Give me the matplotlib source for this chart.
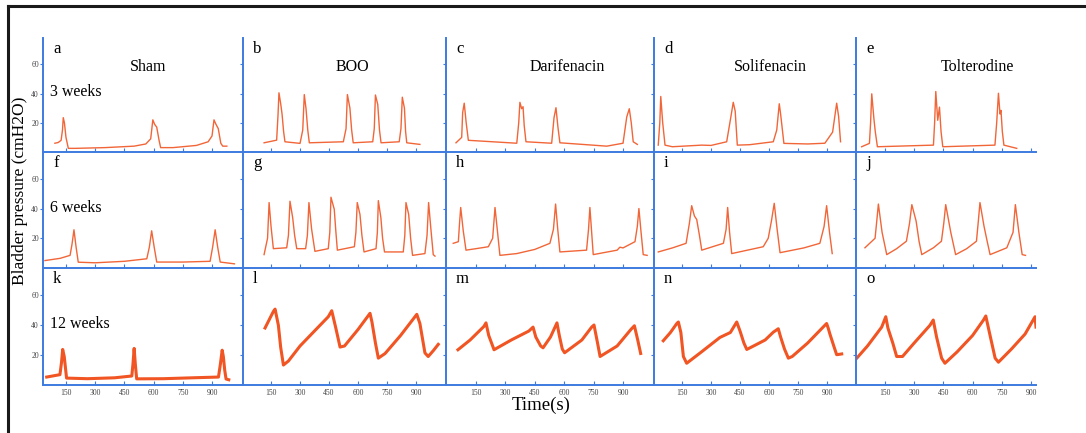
import matplotlib
matplotlib.use("Agg")
from matplotlib import pyplot as plt
from matplotlib.lines import Line2D

plt.rcParams['font.family'] = ['Liberation Serif', 'DejaVu Serif']

# ---- traces, time [s] and pressure [cmH2O] ----
# row 1 : 3 weeks
sham_3w_t = [93, 110, 125, 132, 136, 142, 150, 162, 200, 350, 500, 560, 585, 596, 605, 616, 628, 636, 700, 820, 880, 900, 910, 920, 932, 945, 955, 976]
sham_3w_p = [6, 6.5, 8, 15, 23.5, 20, 10, 2.5, 2.5, 3, 4, 5.5, 9, 22, 19, 17, 8, 3, 3, 4.5, 7, 11, 22, 19, 16, 6, 4, 4]
boo_3w_t = [114, 179, 186, 191, 200, 207, 215, 222, 300, 314, 322, 331, 340, 348, 524, 538, 545, 558, 567, 575, 676, 684, 690, 702, 711, 719, 813, 822, 829, 840, 846, 852, 920]
boo_3w_p = [6.3, 8.1, 25, 40.5, 33, 26, 14, 7, 5.9, 15, 39.3, 29.6, 15, 6.3, 7, 16, 39.3, 30, 15, 6.3, 7, 16, 39, 32.5, 15, 6.3, 7, 16, 37.5, 30, 14, 6.3, 5.2]
dari_3w_t = [48, 77, 82, 90, 100, 111, 358, 368, 374, 383, 390, 396, 405, 536, 548, 558, 568, 578, 817, 900, 919, 932, 942, 952, 973]
dari_3w_p = [6.3, 10, 27, 33.4, 20, 8, 6, 20, 34, 29.6, 31, 18, 7, 6, 23.5, 30.3, 17, 6.3, 4, 6, 24, 29.6, 20, 7, 5.2]
soli_3w_t = [27, 35, 40, 50, 62, 100, 252, 300, 381, 402, 415, 425, 436, 500, 622, 640, 653, 660, 677, 800, 889, 929, 950, 960, 970]
soli_3w_p = [4.7, 20, 38, 20, 4.7, 3.6, 4.7, 4.5, 7, 23.5, 34, 28, 4.7, 5, 7, 15, 33, 26, 5.9, 5.5, 6, 13.6, 33.4, 24.4, 7]
tolt_3w_t = [30, 70, 76, 82, 93, 100, 111, 399, 405, 411, 421, 430, 438, 447, 715, 724, 733, 741, 746, 753, 761, 827]
tolt_3w_p = [3.6, 5.9, 20, 39.8, 22.8, 14, 3.6, 4.7, 20, 41.4, 21.7, 30.7, 14, 3.6, 4.7, 20, 40.2, 26, 28.5, 14, 4.7, 2.5]

# row 2 : 6 weeks
sham_6w_t = [42, 120, 171, 181, 191, 202, 213, 300, 450, 565, 578, 590, 603, 616, 750, 890, 903, 916, 929, 942, 1015]
sham_6w_p = [5, 6.5, 8.5, 16, 25.7, 14, 3.9, 3.5, 4.5, 6.2, 14, 25, 14, 4, 4, 4.5, 14, 25.7, 14, 4, 2.8]
boo_6w_t = [114, 132, 140, 150, 162, 231, 240, 248, 262, 272, 283, 329, 338, 346, 360, 377, 446, 454, 460, 477, 485, 493, 581, 589, 596, 610, 620, 631, 693, 700, 705, 718, 727, 737, 834, 842, 848, 862, 872, 882, 946, 957, 965, 977, 989, 998]
boo_6w_p = [9, 20, 44, 28, 13, 13.6, 22, 44.9, 33.8, 22, 13, 13, 22, 44, 26, 11.2, 13, 24, 47.6, 39.5, 25, 12, 14.3, 24, 44, 36, 22, 10.8, 13, 24, 45.3, 34, 20, 10.8, 10.8, 22, 44, 36, 20, 8.5, 9.7, 22, 44, 26, 9, 8]
dari_6w_t = [34, 60, 66, 72, 85, 99, 150, 213, 235, 247, 260, 272, 358, 450, 527, 545, 556, 567, 578, 714, 724, 731, 740, 748, 870, 884, 900, 961, 973, 981, 992, 1003, 1023]
dari_6w_p = [16.6, 17.7, 30, 40.7, 25, 12, 13, 14.3, 20, 40.7, 24, 8.5, 9.7, 12.5, 16.6, 26, 43, 26, 10.8, 12, 26, 40.7, 24, 9, 12, 14, 13.5, 17.7, 28, 40, 24, 9, 8.5]
soli_6w_t = [27, 100, 171, 188, 200, 214, 226, 240, 252, 364, 378, 386, 396, 407, 570, 596, 613, 627, 642, 657, 780, 863, 885, 898, 913, 927]
soli_6w_p = [10.8, 13.5, 16.6, 30, 41.9, 35, 32.6, 22, 12, 16.6, 26, 40.7, 24, 9.7, 14.3, 20, 32, 43.5, 26, 10.3, 13.5, 16.6, 28, 41.9, 24, 9.7]
tolt_6w_t = [47, 99, 108, 116, 135, 159, 210, 260, 276, 288, 310, 325, 339, 399, 440, 452, 462, 488, 513, 570, 620, 630, 638, 659, 675, 690, 776, 808, 820, 838, 855, 872]
tolt_6w_p = [13.6, 20, 32, 43, 24, 9, 13, 18, 30, 42.6, 31.5, 18, 9, 13.6, 18, 30, 42.6, 24, 9, 13, 18, 32, 44, 28, 18, 9, 13.6, 24, 42.6, 24, 9, 8.5]

# row 3 : 12 weeks
sham_12w_t = [51, 119, 127, 133, 141, 153, 260, 400, 488, 494, 500, 506, 513, 650, 800, 933, 943, 952, 958, 965, 972, 986]
sham_12w_p = [5.3, 6.9, 15, 23.7, 19, 4.6, 4.2, 4.8, 6, 14, 24.4, 14, 4.1, 4.2, 4.8, 5.3, 14, 23.2, 19, 10, 4, 3.5]
boo_12w_t = [119, 162, 171, 188, 200, 214, 240, 300, 386, 446, 464, 485, 507, 530, 600, 662, 672, 690, 705, 740, 820, 904, 920, 946, 963, 990, 1015]
boo_12w_p = [38, 49, 50.6, 39.8, 25, 13.3, 16, 26, 37.5, 45.5, 49.5, 38, 25.3, 26, 37, 47.8, 42, 28, 17.9, 21, 33, 47.1, 41, 21.4, 19, 23, 27.1]
dari_12w_t = [58, 120, 190, 201, 215, 235, 242, 330, 420, 441, 455, 480, 492, 530, 563, 575, 590, 602, 690, 740, 752, 770, 783, 870, 940, 958, 975, 990]
dari_12w_p = [23.5, 30, 39, 41.4, 33, 26, 23.5, 30, 36, 38.6, 32, 26, 24.8, 32, 41.4, 33, 24, 21.5, 30, 38.6, 40, 28, 19, 26, 37, 39.5, 30, 21]
soli_12w_t = [53, 90, 123, 131, 144, 157, 174, 250, 346, 400, 433, 450, 470, 485, 520, 580, 622, 648, 660, 680, 700, 720, 800, 898, 906, 915, 935, 950, 976]
soli_12w_p = [29.5, 35, 41, 42, 35, 19, 14.5, 22, 31.7, 35, 42, 36, 28, 23.7, 26, 30, 35.2, 37.5, 32, 24, 17.9, 19, 28, 41, 38, 34, 26, 20.2, 20.7]
tolt_12w_t = [5, 60, 133, 154, 165, 190, 210, 240, 300, 381, 398, 415, 441, 458, 520, 600, 656, 668, 690, 716, 733, 800, 870, 921, 926]
tolt_12w_p = [17.9, 26, 38.6, 45.5, 38, 28, 19, 19, 28, 39.8, 43.3, 32, 17.9, 14.5, 22, 33, 43.3, 46, 33, 17.9, 15.2, 24, 34, 45.5, 38.6]

traces = [
    [(sham_3w_t, sham_3w_p), (boo_3w_t, boo_3w_p), (dari_3w_t, dari_3w_p), (soli_3w_t, soli_3w_p), (tolt_3w_t, tolt_3w_p)],
    [(sham_6w_t, sham_6w_p), (boo_6w_t, boo_6w_p), (dari_6w_t, dari_6w_p), (soli_6w_t, soli_6w_p), (tolt_6w_t, tolt_6w_p)],
    [(sham_12w_t, sham_12w_p), (boo_12w_t, boo_12w_p), (dari_12w_t, dari_12w_p), (soli_12w_t, soli_12w_p), (tolt_12w_t, tolt_12w_p)],
]

groups = ["Sham", "BOO", "Darifenacin", "Solifenacin", "Tolterodine"]
weeks = ["3 weeks", "6 weeks", "12 weeks"]
letters = "abcdefghijklmno"
xticks = [150, 300, 450, 600, 750, 900]
yticks = [20, 40, 60]

# ---- layout (pixels) ----
W, H = 1086, 433
col_left = [43, 243, 446, 654, 856]
col_right = [243, 446, 654, 856, 1036]
col_xlim = [(32, 1059), (5, 1055), (-3, 1058), (5, 1050), (1, 926)]
row_top = [38, 152, 268]
row_bot = [152, 268, 385]
title_x = [148, 352, 567, 770, 977]

blue = "#3d7be0"
red = "#f05523"

fig = plt.figure(figsize=(W/100, H/100), dpi=100)

for r in range(3):
    for c in range(5):
        x0 = col_left[c] / W
        y0 = 1 - row_bot[r] / H
        ax = fig.add_axes([x0, y0, (col_right[c] - col_left[c]) / W, (row_bot[r] - row_top[r]) / H])
        ax.patch.set_alpha(0)
        t, p = traces[r][c]
        if r == 2:
            ax.plot(t, p, color=red, lw=2.2, solid_joinstyle="round")
        else:
            ax.plot(t, p, color=red, lw=1.0, alpha=0.9)
        ax.set_xlim(*col_xlim[c])
        ax.set_ylim(0, 78)
        for s in ["top", "right"]:
            ax.spines[s].set_visible(False)
        for s in ["left", "bottom"]:
            ax.spines[s].set_color(blue)
            ax.spines[s].set_linewidth(1.4)
        ax.set_xticks(xticks)
        ax.set_yticks(yticks)
        ax.tick_params(axis="x", direction="in", length=3, color=blue, labelsize=5.5, pad=3, labelcolor="#444444")
        ax.tick_params(axis="y", direction="out", length=2, color=blue, labelsize=5.5, pad=1, labelcolor="#444444")
        if r < 2:
            ax.set_xticklabels([])
        if c > 0:
            ax.set_yticklabels([])
        ax.text(10 / (col_right[c] - col_left[c]), 1 - 11 / (row_bot[r] - row_top[r]), letters[r*5 + c],
                transform=ax.transAxes, fontsize=12, va="center", ha="left")

for c in range(5):
    fig.text(title_x[c] / W, 1 - 67 / H, groups[c], fontsize=11.5, ha="center", va="center")

for r, (y, lab) in enumerate(zip([92, 208, 324], weeks)):
    fig.text(50 / W, 1 - y / H, lab, fontsize=11.5, ha="left", va="center")

fig.text(20 / W, 1 - 191 / H, "Bladder pressure (cmH2O)", fontsize=12.5, rotation=90, ha="center", va="center")
fig.text(541 / W, 1 - 405 / H, "Time(s)", fontsize=13.5, ha="center", va="center")

# outer frame
fig.add_artist(Line2D([8 / W, 1.0], [1 - 6 / H, 1 - 6 / H], color="#1a1a1a", lw=2.2))
fig.add_artist(Line2D([8 / W, 8 / W], [0, 1 - 6 / H], color="#1a1a1a", lw=2.2))

fig.savefig("out.png", dpi=100)
